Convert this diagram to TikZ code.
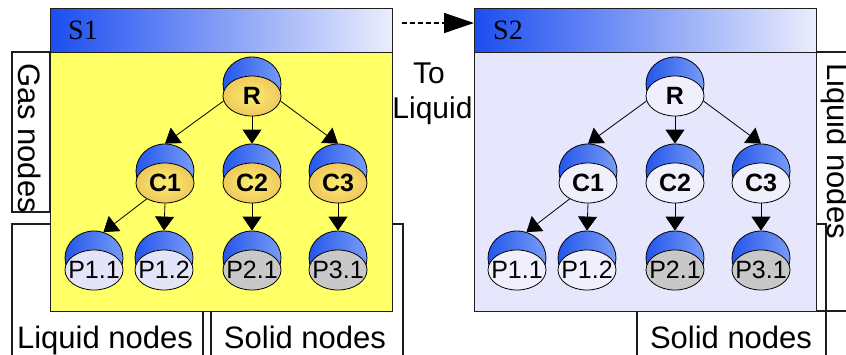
\documentclass[tikz,border=0pt]{standalone}
\usepackage{fontspec}
\setmainfont{Liberation Sans}
\newfontfamily\serifS{Liberation Serif}
\usetikzlibrary{shapes.geometric,arrows.meta}
\definecolor{yelbody}{RGB}{255,255,102}
\definecolor{lavbody}{RGB}{230,230,252}
\definecolor{hdrL}{RGB}{28,78,240}
\definecolor{hdrR}{RGB}{236,238,252}
\definecolor{capL}{RGB}{36,86,236}
\definecolor{capR}{RGB}{120,156,246}
\definecolor{ndIn}{RGB}{250,238,112}
\definecolor{ndOut}{RGB}{240,200,92}
\definecolor{ndW}{RGB}{240,240,252}
\definecolor{ndL}{RGB}{228,228,248}
\definecolor{ndG}{RGB}{200,200,200}
\definecolor{lineC}{RGB}{30,30,30}
\newcommand{\bnode}[5]{%
  \node[capst] (#1cap) at (#2,#3-12) {};
  \node[bodyst,#5] (#1) at (#2,#3) {\makebox[0pt]{#4}};}
\begin{document}
\begin{tikzpicture}[x=1pt,y=-1pt,
  boxst/.style={draw=lineC,line width=1.2pt},
  lbl/.style={font=\fontsize{31}{36}\selectfont,inner sep=0pt},
  hdr/.style={draw=lineC,line width=1.3pt,anchor=north west,minimum width=342pt,
    minimum height=44pt,inner sep=0pt,left color=hdrL,right color=hdrR},
  panel/.style={draw=lineC,line width=1.3pt,anchor=north west,minimum width=342pt,
    minimum height=259pt,inner sep=0pt},
  capst/.style={ellipse,draw=black,line width=0.8pt,minimum width=58pt,
    minimum height=54pt,inner sep=0pt,left color=capL,right color=capR},
  bodyst/.style={ellipse,draw=black,line width=0.8pt,minimum width=58pt,
    minimum height=40pt,inner sep=0pt,font=\fontsize{25}{25}\selectfont},
  bodyY/.style={inner color=ndIn,outer color=ndOut},
  bodyW/.style={fill=ndW},
  bodyL/.style={fill=ndL},
  bodyG/.style={fill=ndG},
  tarr/.style={draw=black,line width=0.8pt,-{Triangle[length=14pt,width=19pt]}},
  darr/.style={draw=black,line width=1.5pt,dash pattern=on 5pt off 3pt,
    -{Triangle[length=30pt,width=20pt]}}]
\clip (0,0) rectangle (846,354);
\fill[white] (0,0) rectangle (846,354);
% outer category boxes
\draw[boxst] (12,52) rectangle (50,212);
\draw[boxst] (12,224) rectangle (203,362);
\draw[boxst] (211,224) rectangle (403,362);
\draw[boxst] (815,52) rectangle (870,311);
\draw[boxst] (637,224) rectangle (826,362);
% panels
\node[hdr] (S1head) at (50,8) {};
\node[panel,fill=yelbody] (S1body) at (50,52) {};
\node[hdr] (S2head) at (474,8) {};
\node[panel,fill=lavbody] (S2body) at (474,52) {};
\node[anchor=base west,inner sep=0pt,font=\serifS\fontsize{28}{28}\selectfont] (S1t) at (68,39) {S1};
\node[anchor=base west,inner sep=0pt,font=\serifS\fontsize{28}{28}\selectfont] (S2t) at (493,39) {S2};
% labels
\node[lbl,rotate=-90,anchor=base] (gasT) at (19,138) {Gas nodes};
\node[lbl,rotate=-90,anchor=base] (liqR) at (827,151) {Liquid nodes};
\node[lbl,anchor=base] (liqL) at (105,348) {Liquid nodes};
\node[lbl,anchor=base] (solL) at (305,348) {Solid nodes};
\node[lbl,anchor=base] (solR) at (731,348) {Solid nodes};
\node[lbl,anchor=base,font=\fontsize{30}{34}\selectfont] (toT) at (429,83) {To};
\node[lbl,anchor=base,font=\fontsize{30}{34}\selectfont] (toL) at (432.5,118) {Liquid};
% transition arrow
\coordinate (arrS) at (402,23);
\draw[darr] (arrS) -- (arrS -| S2head.west);
% S1 tree
\bnode{aR}{252}{96}{\bfseries R}{bodyY}
\bnode{aC1}{165}{183}{\bfseries C1}{bodyY}
\bnode{aC2}{252}{183}{\bfseries C2}{bodyY}
\bnode{aC3}{338}{183}{\bfseries C3}{bodyY}
\bnode{aP11}{94}{270}{P1.1}{bodyL}
\bnode{aP12}{164}{270}{P1.2}{bodyL}
\bnode{aP21}{252}{270}{P2.1}{bodyG}
\bnode{aP31}{338}{270}{P3.1}{bodyG}
\draw[tarr] (aR.190) -- (aC1cap.north);
\draw[tarr] (aR.south) -- (aC2cap.north);
\draw[tarr] (aR.350) -- (aC3cap.north);
\draw[tarr] (aC1.221) -- (aP11cap.70);
\draw[tarr] (aC1.south) -- (aP12cap.north);
\draw[tarr] (aC2.south) -- (aP21cap.north);
\draw[tarr] (aC3.south) -- (aP31cap.north);
% S2 tree
\bnode{bR}{675}{96}{\bfseries R}{bodyW}
\bnode{bC1}{588}{183}{\bfseries C1}{bodyW}
\bnode{bC2}{675}{183}{\bfseries C2}{bodyW}
\bnode{bC3}{761}{183}{\bfseries C3}{bodyW}
\bnode{bP11}{517}{270}{P1.1}{bodyW}
\bnode{bP12}{587}{270}{P1.2}{bodyW}
\bnode{bP21}{675}{270}{P2.1}{bodyG}
\bnode{bP31}{761}{270}{P3.1}{bodyG}
\draw[tarr] (bR.190) -- (bC1cap.north);
\draw[tarr] (bR.south) -- (bC2cap.north);
\draw[tarr] (bR.350) -- (bC3cap.north);
\draw[tarr] (bC1.221) -- (bP11cap.70);
\draw[tarr] (bC1.south) -- (bP12cap.north);
\draw[tarr] (bC2.south) -- (bP21cap.north);
\draw[tarr] (bC3.south) -- (bP31cap.north);
\end{tikzpicture}
\end{document}
